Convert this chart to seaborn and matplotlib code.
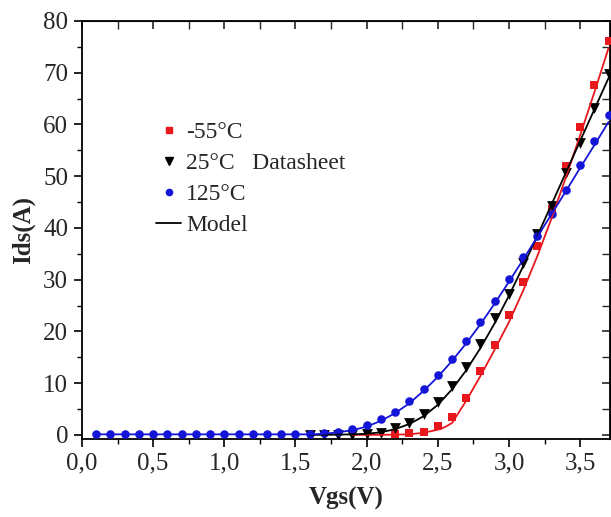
import numpy as np
import pandas as pd
import matplotlib
matplotlib.use("Agg")
import matplotlib.pyplot as plt
import seaborn as sns
from matplotlib.lines import Line2D
from matplotlib.ticker import MultipleLocator

# ---- datasheet points ----
vgs_m55 = [2.2, 2.3, 2.4, 2.5, 2.6, 2.7, 2.8, 2.9, 3.0, 3.1, 3.2, 3.3, 3.4, 3.5, 3.6, 3.7]
ids_m55 = [0.1, 0.3, 0.6, 1.8, 3.5, 7.2, 12.3, 17.4, 23.1, 29.6, 36.6, 43.6, 51.9, 59.6, 67.7, 76.2]

vgs_25 = [1.6, 1.7, 1.8, 1.9, 2.0, 2.1, 2.2, 2.3, 2.4, 2.5, 2.6, 2.7, 2.8, 2.9, 3.0, 3.1, 3.2, 3.3, 3.4, 3.5, 3.6, 3.7]
ids_25 = [0.0, 0.0, 0.0, 0.0, 0.1, 0.3, 1.4, 2.2, 4.0, 6.4, 9.4, 13.1, 17.6, 22.6, 27.3, 33.3, 38.8, 44.2, 50.6, 56.4, 63.1, 69.8]

vgs_125 = [0.1, 0.2, 0.3, 0.4, 0.5, 0.6, 0.7, 0.8, 0.9, 1.0, 1.1, 1.2, 1.3, 1.4, 1.5, 1.6, 1.7, 1.8, 1.9,
           2.0, 2.1, 2.2, 2.3, 2.4, 2.5, 2.6, 2.7, 2.8, 2.9, 3.0, 3.1, 3.2, 3.3, 3.4, 3.5, 3.6, 3.7]
ids_125 = [0.1, 0.1, 0.1, 0.1, 0.1, 0.1, 0.1, 0.1, 0.1, 0.1, 0.1, 0.1, 0.1, 0.1, 0.1, 0.2, 0.3, 0.5, 1.1,
           1.9, 3.1, 4.5, 6.5, 8.9, 11.6, 14.7, 18.2, 21.8, 25.8, 30.2, 34.3, 38.4, 42.6, 47.3, 52.1, 56.8, 61.8]

# ---- model curves ----
mv_m55 = [1.9, 2.0, 2.1, 2.2, 2.3, 2.4, 2.5, 2.55, 2.6, 2.7, 2.8, 2.9, 3.0, 3.1, 3.2, 3.3, 3.4, 3.5, 3.6, 3.7]
mi_m55 = [0.0, 0.0, 0.0, 0.05, 0.1, 0.4, 1.0, 1.5, 2.3, 6.6, 11.4, 16.5, 21.8, 27.9, 34.6, 41.9, 49.8, 57.9, 66.2, 74.8]

mv_25 = [1.6, 1.7, 1.8, 1.9, 2.0, 2.1, 2.2, 2.3, 2.4, 2.5, 2.6, 2.7, 2.8, 2.9, 3.0, 3.1, 3.2, 3.3, 3.4, 3.5, 3.6, 3.7]
mi_25 = [0.0, 0.0, 0.05, 0.1, 0.2, 0.5, 1.1, 2.1, 3.6, 5.8, 8.8, 12.5, 16.8, 21.6, 26.9, 32.6, 38.5, 44.6, 50.7, 56.8, 62.9, 69.0]

mv_125 = [0.1, 0.5, 1.0, 1.5, 1.6, 1.7, 1.8, 1.9, 2.0, 2.1, 2.2, 2.3, 2.4, 2.5, 2.6, 2.7, 2.8, 2.9, 3.0, 3.1, 3.2, 3.3, 3.4, 3.5, 3.6, 3.7]
mi_125 = [0.1, 0.1, 0.1, 0.1, 0.1, 0.2, 0.5, 0.9, 1.6, 2.7, 4.2, 6.1, 8.5, 11.2, 14.3, 17.7, 21.4, 25.4, 29.6, 33.9, 38.3, 42.7, 47.1, 51.6, 56.0, 60.5]

series_labels = ["-55\u00b0C", "25\u00b0C   Datasheet", "125\u00b0C", "Model"]
xtick_values = [0.0, 0.5, 1.0, 1.5, 2.0, 2.5, 3.0, 3.5]
xtick_labels = ["0,0", "0,5", "1,0", "1,5", "2,0", "2,5", "3,0", "3,5"]
ytick_values = [0, 10, 20, 30, 40, 50, 60, 70, 80]

RED = "#e8171b"
BLK = "#000000"
BLU = "#1515d8"

sns.set_style("ticks")
plt.rcParams["font.family"] = ["Liberation Serif", "DejaVu Serif"]

fig = plt.figure(figsize=(6.11, 5.17), dpi=100)
ax = fig.add_axes([82 / 611, 1 - 439 / 517, (610 - 82) / 611, (439 - 21) / 517])

d_m55 = pd.DataFrame({"Vgs": vgs_m55, "Ids": ids_m55})
d_25 = pd.DataFrame({"Vgs": vgs_25, "Ids": ids_25})
d_125 = pd.DataFrame({"Vgs": vgs_125, "Ids": ids_125})

sns.scatterplot(data=d_m55, x="Vgs", y="Ids", marker="s", s=34, color=RED, edgecolor=RED, linewidth=0, ax=ax, zorder=3)
sns.scatterplot(data=d_25, x="Vgs", y="Ids", marker="v", s=60, color=BLK, edgecolor=BLK, linewidth=0, ax=ax, zorder=3)
sns.scatterplot(data=d_125, x="Vgs", y="Ids", marker="o", s=38, color=BLU, edgecolor=BLU, linewidth=0, ax=ax, zorder=3)

sns.lineplot(x=mv_m55, y=mi_m55, color=RED, linewidth=1.3, ax=ax, zorder=4, sort=False)
sns.lineplot(x=mv_25, y=mi_25, color=BLK, linewidth=1.3, ax=ax, zorder=4, sort=False)
sns.lineplot(x=mv_125, y=mi_125, color=BLU, linewidth=1.3, ax=ax, zorder=4, sort=False)

ax.set_xlim(0, 3.71)
ax.set_ylim(-0.8, 80)
ax.set_xticks(xtick_values)
ax.set_xticklabels(xtick_labels)
ax.set_yticks(ytick_values)
ax.xaxis.set_minor_locator(MultipleLocator(0.25))
ax.yaxis.set_minor_locator(MultipleLocator(5))

for s in ax.spines.values():
    s.set_visible(True)
    s.set_linewidth(1.3)
    s.set_color("black")

ax.tick_params(axis="both", which="major", labelsize=18, width=1.2, length=6, color="black", pad=4)
ax.tick_params(axis="both", which="minor", width=1.0, length=3.5, color="black")
ax.tick_params(axis="x", which="both", direction="out", top=False)
ax.tick_params(axis="y", which="both", direction="out", right=False)

# inward ticks on top and right
axt = ax.secondary_xaxis("top")
axt.set_xticks(xtick_values)
axt.xaxis.set_minor_locator(MultipleLocator(0.25))
axt.tick_params(axis="x", which="major", direction="in", length=6, width=1.2, labeltop=False)
axt.tick_params(axis="x", which="minor", direction="in", length=6, width=1.0)
axt.set_xticklabels([])
axr = ax.secondary_yaxis("right")
axr.set_yticks(ytick_values)
axr.yaxis.set_minor_locator(MultipleLocator(5))
axr.tick_params(axis="y", which="major", direction="in", length=6, width=1.2)
axr.tick_params(axis="y", which="minor", direction="in", length=6, width=1.0)
axr.set_yticklabels([])

ax.set_xlabel("Vgs(V)", fontsize=18, fontweight="bold", labelpad=9)
ax.set_ylabel("Ids(A)", fontsize=18, fontweight="bold", labelpad=6)

handles = [
    Line2D([], [], linestyle="none", marker="s", markersize=5, color=RED),
    Line2D([], [], linestyle="none", marker="v", markersize=6, color=BLK),
    Line2D([], [], linestyle="none", marker="o", markersize=4.5, color=BLU),
    Line2D([], [], color=BLK, linewidth=1.3),
]
leg = ax.legend(handles, series_labels, loc="upper left", bbox_to_anchor=(0.123, 0.782),
                frameon=False, fontsize=17, handlelength=1.05, handletextpad=0.2,
                labelspacing=0.4, borderaxespad=0)

fig.savefig("out.png", dpi=100)
